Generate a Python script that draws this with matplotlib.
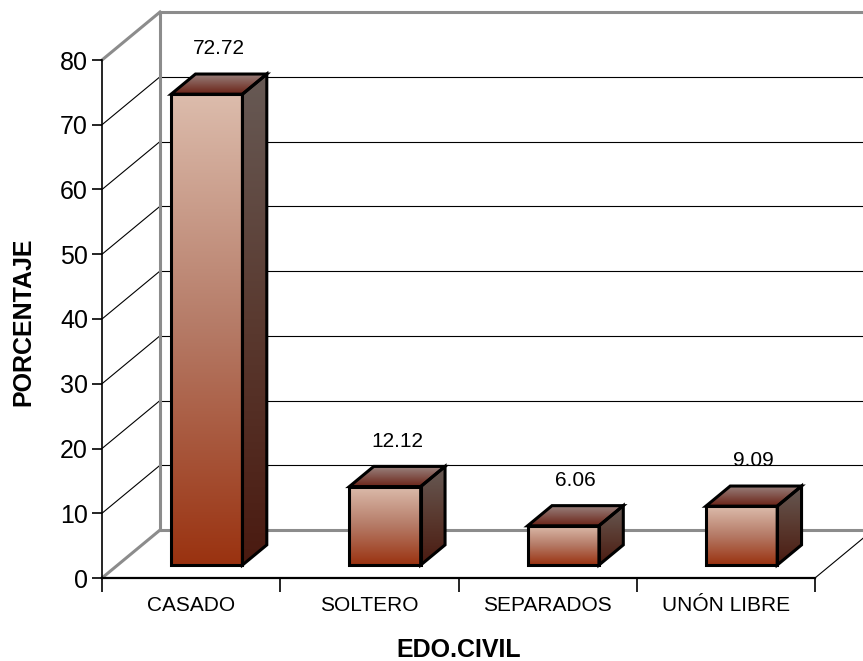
import numpy as np
import matplotlib
matplotlib.use("Agg")
import matplotlib.pyplot as plt
from matplotlib.patches import Polygon
from matplotlib.colors import LinearSegmentedColormap

plt.rcParams['font.family'] = ['Liberation Sans', 'DejaVu Sans']

# datos
categorias = ["CASADO", "SOLTERO", "SEPARADOS", "UNÓN LIBRE"]
valores = [72.72, 12.12, 6.06, 9.09]
etiquetas = ["72.72", "12.12", "6.06", "9.09"]
y_ticks = [0, 10, 20, 30, 40, 50, 60, 70, 80]

# profundidad del efecto 3D (en unidades de datos)
DX = 0.3254
DY = 7.41
F0, F1 = 0.27, 0.69      # fraccion de profundidad de la barra
ANCHO = 0.40

fig = plt.figure(figsize=(8.63, 6.61), dpi=100)
ax = fig.add_axes([102/863, 83/661, 713/863, 518/661])
ax.set_xlim(0, 4)
ax.set_ylim(0, 80)

gris = "#8c8c8c"

# pared izquierda y pared del fondo
for v in y_ticks:
    borde = v in (0, 80)
    c = gris if borde else "black"
    lw = 2.2 if borde else 0.8
    ax.plot([0, DX], [v, v + DY], color=c, lw=lw, clip_on=False, zorder=1)
    ax.plot([DX, 4 + DX + 0.2], [v + DY, v + DY], color=c, lw=lw, clip_on=False, zorder=1)
ax.plot([DX, DX], [DY, 80 + DY], color=gris, lw=2.2, clip_on=False, zorder=1)
ax.plot([4, 4 + DX], [0, DY], color="black", lw=0.8, clip_on=False, zorder=1)


def cara(puntos, colores, z):
    poly = Polygon(puntos, closed=True, facecolor="none", edgecolor="black",
                   lw=2.2, joinstyle="miter", zorder=z + 1)
    ax.add_patch(poly)
    xs = [p[0] for p in puntos]
    ys = [p[1] for p in puntos]
    cmap = LinearSegmentedColormap.from_list("g", colores)
    img = np.linspace(0, 1, 256).reshape(-1, 1)
    im = ax.imshow(img, extent=[min(xs), max(xs), min(ys), max(ys)], origin="lower",
                   cmap=cmap, aspect="auto", interpolation="bilinear", zorder=z)
    im.set_clip_path(poly)


frente = ["#9a3210", "#b57a66", "#dcbcac"]
lado = ["#4a1a10", "#5a3a30", "#675a55"]
tapa = ["#6a2216", "#9a8480"]

for i, v in enumerate(valores):
    x0 = i + 0.5 - ANCHO / 2
    x1 = i + 0.5 + ANCHO / 2
    fx, fy = F0 * DX, F0 * DY
    bx, by = F1 * DX, F1 * DY
    # cara frontal
    cara([(x0 + fx, fy), (x1 + fx, fy), (x1 + fx, v + fy), (x0 + fx, v + fy)], frente, 3)
    # cara lateral
    cara([(x1 + fx, fy), (x1 + bx, by), (x1 + bx, v + by), (x1 + fx, v + fy)], lado, 3)
    # tapa
    cara([(x0 + fx, v + fy), (x1 + fx, v + fy), (x1 + bx, v + by), (x0 + bx, v + by)], tapa, 3)
    ax.text(i + 0.5 + (fx + bx) / 2, v + by + 2.4, etiquetas[i], ha="center", va="bottom",
            fontsize=15, zorder=6)

ax.set_xlim(0, 4)
ax.set_ylim(0, 80)

for s in ("top", "right"):
    ax.spines[s].set_visible(False)
ax.spines["left"].set_linewidth(1.2)
ax.spines["bottom"].set_linewidth(1.6)
ax.spines["left"].set_zorder(2)
ax.spines["bottom"].set_zorder(2)

ax.set_yticks(y_ticks)
ax.tick_params(axis="y", direction="out", length=7, width=1.2, labelsize=18, pad=3)
ax.set_xticks([0, 1, 2, 3, 4])
ax.set_xticklabels([])
ax.tick_params(axis="x", which="major", direction="out", length=10, width=1.2)
ax.set_xticks([0.5, 1.5, 2.5, 3.5], minor=True)
ax.set_xticklabels(categorias, minor=True)
ax.tick_params(axis="x", which="minor", length=0, labelsize=15, pad=13)

ax.set_xlabel("EDO.CIVIL", fontsize=18, fontweight="bold")
ax.xaxis.set_label_coords(0.5, -0.115)
ax.set_ylabel("PORCENTAJE", fontsize=18, fontweight="bold")
ax.yaxis.set_label_coords(-0.094, 0.495)

fig.savefig("out.png", dpi=100)
